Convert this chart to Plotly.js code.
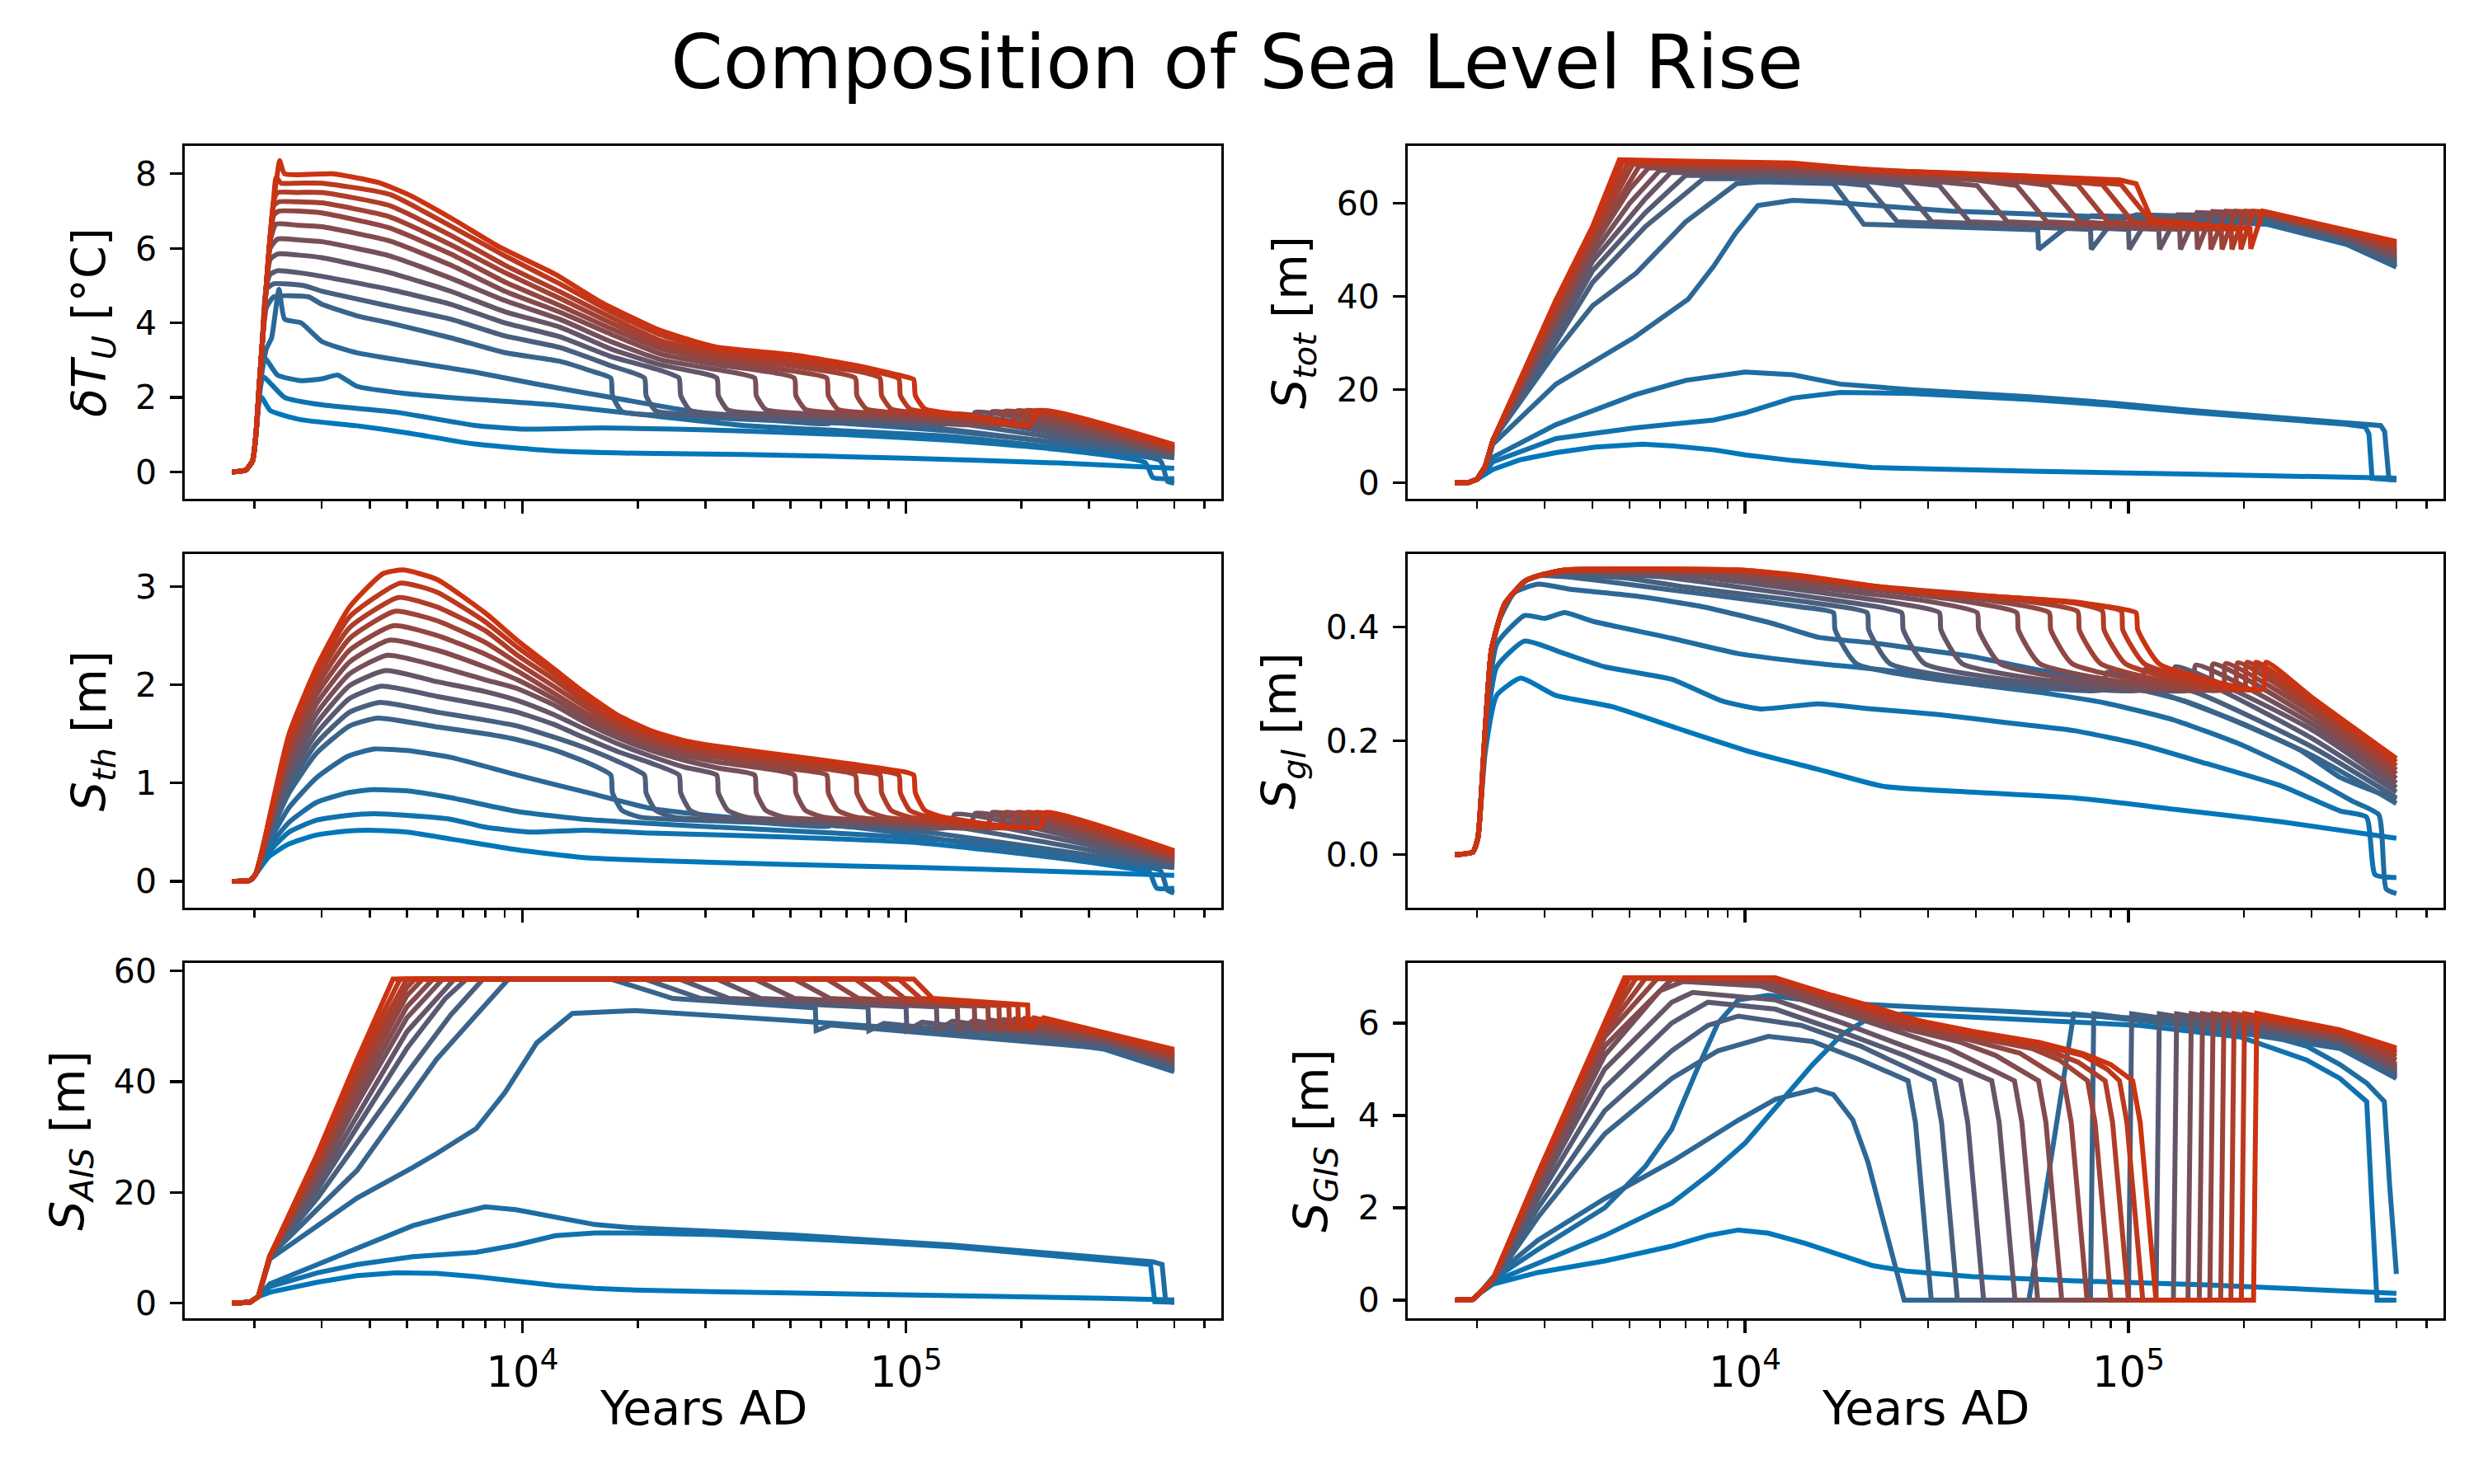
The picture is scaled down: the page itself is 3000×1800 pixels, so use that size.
<!DOCTYPE html>
<html>
<head>
<meta charset="utf-8">
<script src="https://cdn.plot.ly/plotly-3.0.1.min.js"></script>
<style>html,body{margin:0;padding:0;background:#fff}</style>
</head>
<body>
<div id="graph" style="width:3000px;height:1800px"></div>
<script>
// each scenario is a list of [year AD, value], blue (low) -> red (high)
const tempU = [
  [[1750,0],[1900,0.05],[1980,0.3],[2020,1.0],[2060,1.9],[2090,2.0],[2200,1.65],[2650,1.4],[3700,1.24],[5000,1.05],[7500,0.75],[12000,0.57],[20000,0.5],[37500,0.47],[100000,0.37],[250000,0.24],[500000,0.1]],
  [[1750,0],[1900,0.05],[1980,0.3],[2020,1.0],[2060,2.0],[2110,2.55],[2400,2.0],[3000,1.8],[4700,1.6],[7500,1.25],[10000,1.15],[16000,1.18],[25000,1.15],[37500,1.1],[70000,1.0],[130000,0.85],[250000,0.6],[420000,0.25],[440000,-0.15],[500000,-0.18]],
  [[1750,0],[1900,0.05],[1980,0.3],[2020,1.0],[2060,2.1],[2130,3.05],[2300,2.6],[2650,2.45],[3000,2.5],[3300,2.6],[3700,2.3],[5000,2.1],[7500,1.95],[12000,1.8],[20000,1.55],[37500,1.25],[70000,1.1],[130000,0.95],[250000,0.65],[460000,0.3],[480000,-0.25],[500000,-0.3]],
  [[1750,0],[1900,0.05],[1980,0.3],[2020,1.0],[2060,2.2],[2150,3.3],[2220,3.6],[2320,4.9],[2400,4.1],[2650,4.0],[3000,3.5],[3700,3.2],[5000,2.97],[7500,2.68],[11000,2.35],[17000,2.0],[25000,1.7],[37500,1.45],[70000,1.3],[130000,1.1],[220000,0.85],[340000,0.62],[500000,0.4]],
  [[1750,0],[1900,0.05],[1980,0.3],[2020,1.0],[2060,2.3],[2100,3.5],[2150,4.4],[2250,4.7],[2770,4.7],[3000,4.5],[3700,4.19],[4500,4.0],[6500,3.6],[9000,3.2],[12500,2.97],[15000,2.72],[17000,2.52],[17170,2.05],[18190,1.62],[25000,1.5],[45000,1.38],[63000,1.3],[64900,1.42],[500000,0.38]],
  [[1750,0],[1900,0.05],[1980,0.3],[2020,1.0],[2060,2.3],[2100,3.5],[2150,4.9],[2250,5.05],[2700,5.0],[3000,4.85],[4500,4.45],[6500,4.1],[9000,3.65],[12500,3.34],[17000,2.85],[20800,2.52],[21010,2.05],[22260,1.64],[30000,1.52],[60000,1.4],[86000,1.3],[88600,1.48],[500000,0.42]],
  [[1750,0],[1900,0.05],[1980,0.3],[2020,1.0],[2060,2.3],[2100,3.5],[2150,5.0],[2200,5.3],[2300,5.4],[2600,5.35],[3000,5.25],[4500,4.9],[6500,4.5],[9000,4.0],[12500,3.63],[17000,3.1],[23000,2.72],[25600,2.52],[25860,2.05],[27390,1.65],[35000,1.53],[70000,1.41],[108000,1.3],[111200,1.52],[500000,0.46]],
  [[1750,0],[1900,0.05],[1980,0.3],[2020,1.0],[2060,2.3],[2100,3.5],[2150,5.0],[2200,5.7],[2300,5.85],[2600,5.82],[3000,5.75],[4500,5.35],[6500,4.85],[9000,4.3],[12500,3.89],[17000,3.3],[23000,2.87],[32100,2.52],[32420,2.05],[34350,1.66],[45000,1.54],[90000,1.41],[130000,1.3],[133900,1.55],[500000,0.49]],
  [[1750,0],[1900,0.05],[1980,0.3],[2020,1.0],[2060,2.3],[2100,3.5],[2150,5.0],[2200,6.0],[2300,6.25],[2650,6.22],[3000,6.18],[4500,5.8],[6500,5.2],[9000,4.6],[12500,4.1],[17000,3.5],[23000,3.01],[32000,2.75],[40300,2.52],[40700,2.05],[43120,1.67],[55000,1.56],[100000,1.42],[147000,1.28],[151400,1.6],[500000,0.52]],
  [[1750,0],[1900,0.05],[1980,0.3],[2020,1.0],[2060,2.3],[2100,3.5],[2150,5.0],[2200,6.2],[2280,6.65],[2600,6.62],[3000,6.58],[4500,6.2],[6500,5.55],[9000,4.85],[12500,4.29],[17000,3.7],[23000,3.16],[32000,2.88],[51100,2.52],[51610,2.05],[54680,1.68],[70000,1.57],[110000,1.45],[163000,1.28],[167900,1.62],[500000,0.55]],
  [[1750,0],[1900,0.05],[1980,0.3],[2020,1.0],[2060,2.3],[2100,3.5],[2150,5.0],[2200,6.3],[2250,6.9],[2320,7.0],[2600,7.0],[3000,6.95],[4500,6.55],[6500,5.85],[9000,5.1],[12500,4.47],[17000,3.85],[23000,3.3],[32000,3.0],[50000,2.72],[62100,2.52],[62720,2.05],[66450,1.68],[85000,1.57],[130000,1.45],[176000,1.28],[181300,1.63],[500000,0.58]],
  [[1750,0],[1900,0.05],[1980,0.3],[2020,1.0],[2060,2.3],[2100,3.5],[2150,5.0],[2200,6.3],[2250,7.15],[2320,7.25],[2600,7.25],[3000,7.22],[4500,6.85],[6500,6.1],[9000,5.35],[12500,4.66],[17000,4.0],[23000,3.41],[32000,3.1],[50000,2.85],[73700,2.52],[74440,2.05],[78860,1.69],[100000,1.57],[140000,1.45],[189000,1.28],[194700,1.64],[500000,0.62]],
  [[1750,0],[1900,0.05],[1980,0.3],[2020,1.0],[2060,2.3],[2100,3.5],[2150,5.0],[2200,6.3],[2250,7.3],[2300,7.5],[2600,7.5],[3000,7.5],[4500,7.15],[6500,6.35],[9000,5.55],[12500,4.84],[17000,4.15],[23000,3.52],[32000,3.2],[50000,2.95],[75000,2.7],[85500,2.52],[86360,2.05],[91490,1.69],[110000,1.57],[150000,1.45],[200000,1.27],[206000,1.65],[500000,0.65]],
  [[1750,0],[1900,0.05],[1980,0.3],[2020,1.0],[2060,2.3],[2100,3.5],[2150,5.0],[2200,6.3],[2250,7.4],[2280,7.9],[2350,7.75],[2600,7.75],[3000,7.75],[4500,7.45],[6500,6.6],[9000,5.8],[12500,5.05],[17000,4.3],[23000,3.67],[32000,3.28],[50000,3.05],[75000,2.78],[95700,2.5],[96660,2.05],[102400,1.69],[120000,1.58],[160000,1.45],[211000,1.26],[217300,1.65],[500000,0.69]],
  [[1750,0],[1900,0.05],[1980,0.3],[2020,1.0],[2060,2.3],[2100,3.5],[2150,5.0],[2200,6.3],[2250,7.3],[2290,7.9],[2330,8.35],[2400,8.0],[3200,8.0],[4200,7.77],[5050,7.44],[6600,6.78],[8700,6.04],[12200,5.3],[16000,4.56],[22600,3.82],[32000,3.35],[50000,3.15],[75000,2.85],[100000,2.55],[104700,2.48],[105750,2.05],[112000,1.69],[150000,1.5],[208000,1.24],[224000,1.65],[500000,0.73]]
]

const seaTot = [
  [[1750,0],[1900,0.1],[2000,0.8],[2100,1.8],[2198,2.9],[2600,5.0],[3211,6.5],[4074,7.7],[5400,8.3],[6540,7.9],[8285,7.1],[10000,6.0],[13300,4.8],[21400,3.3],[34400,2.8],[55200,2.5],[142600,1.9],[500000,1.0]],
  [[1750,0],[1900,0.1],[2000,0.8],[2100,2.5],[2198,4.5],[3211,9.5],[5160,11.8],[8285,13.5],[10000,15.0],[13300,18.2],[17700,19.4],[27100,19.2],[55200,17.9],[88700,16.7],[142600,15.2],[229000,13.9],[367600,12.6],[415000,12.0],[424000,10.5],[432000,1.0],[500000,0.6]],
  [[1750,0],[1900,0.1],[2000,0.8],[2100,2.6],[2198,5.5],[3211,12.5],[5160,18.9],[7000,22.0],[10000,23.8],[13300,23.2],[17700,21.2],[27100,20.0],[55200,18.5],[88700,17.2],[142600,15.6],[229000,14.2],[367600,13.0],[455000,12.3],[466000,11.0],[478000,0.8],[500000,0.6]],
  [[1750,0],[1900,0.1],[2000,0.8],[2100,3.0],[2198,8.3],[3211,21.2],[5160,31.3],[7100,39.4],[8285,46.5],[9450,53.6],[10800,59.5],[13300,60.6],[16200,60.3],[21400,59.5],[34400,58.3],[55200,57.7],[88700,57.1],[142600,56.3],[229000,55.5],[370000,51.2],[500000,46.3]],
  [[1750,0],[1900,0.1],[2000,0.8],[2100,3.5],[2200,9.2],[3200,28],[4000,38],[5200,45],[7000,56],[9500,64.2],[11000,64.6],[15000,64.5],[17000,64.2],[20400,55.5],[58000,54.3],[58300,50.1],[67300,54.2],[80000,57.3],[229000,56.5],[370000,51.5],[500000,46.8]],
  [[1750,0],[1900,0.1],[2000,0.8],[2100,3.5],[2200,9.2],[3200,30],[4000,43],[5500,55],[7800,65.3],[12000,65.2],[17000,64.5],[20800,63.8],[24960,56.0],[79600,54.4],[80000,50.1],[90700,56.0],[105000,57.5],[229000,56.8],[370000,51.9],[500000,47.3]],
  [[1750,0],[1900,0.1],[2000,0.8],[2100,3.5],[2200,9.2],[3200,31.5],[4000,45.5],[5500,58],[7000,66.0],[12000,65.8],[20000,64.8],[25600,63.8],[30720,56.0],[100000,54.4],[100500,50.1],[113000,57.0],[229000,57.1],[370000,52.3],[500000,47.8]],
  [[1750,0],[1900,0.1],[2000,0.8],[2100,3.5],[2200,9.2],[3200,33],[4000,47.5],[5500,61],[6400,66.6],[12000,66.4],[22000,65.2],[32100,63.8],[38520,56.0],[120000,54.4],[120600,50.1],[134400,57.5],[229000,57.3],[370000,52.6],[500000,48.3]],
  [[1750,0],[1900,0.1],[2000,0.8],[2100,3.5],[2200,9.2],[3200,34],[4000,49],[5000,60],[6000,67.1],[12000,66.9],[25000,65.5],[40300,63.8],[48360,56.0],[136000,54.4],[136700,50.1],[151000,58.0],[229000,57.5],[370000,52.9],[500000,48.8]],
  [[1750,0],[1900,0.1],[2000,0.8],[2100,3.5],[2200,9.2],[3200,35],[4000,50.5],[5000,63],[5600,67.6],[12000,67.4],[25000,66.0],[40000,65.0],[51100,63.8],[61320,56.0],[150600,54.4],[151400,50.1],[165700,58.2],[229000,57.7],[370000,53.2],[500000,49.3]],
  [[1750,0],[1900,0.1],[2000,0.8],[2100,3.5],[2200,9.2],[3200,36],[4000,51.5],[5300,68.0],[12000,67.8],[25000,66.3],[45000,65.3],[62100,63.8],[74520,56.0],[163400,54.4],[164200,50.1],[179700,58.3],[229000,57.8],[370000,53.5],[500000,49.8]],
  [[1750,0],[1900,0.1],[2000,0.8],[2100,3.5],[2200,9.2],[3200,37],[4000,52.5],[5100,68.4],[12000,68.1],[25000,66.6],[50000,65.5],[73700,64.0],[88440,56.0],[174600,54.4],[175500,50.1],[190300,58.3],[229000,57.9],[370000,53.7],[500000,50.3]],
  [[1750,0],[1900,0.1],[2000,0.8],[2100,3.5],[2200,9.2],[3200,37.8],[4000,53.5],[4950,68.7],[12000,68.3],[25000,66.8],[55000,65.6],[85500,64.0],[102600,56.0],[185300,54.4],[186200,50.1],[202000,58.3],[229000,58.0],[370000,53.9],[500000,50.8]],
  [[1750,0],[1900,0.1],[2000,0.8],[2100,3.5],[2200,9.2],[3200,38.5],[4000,54.3],[4800,69.0],[12000,68.5],[25000,66.9],[55000,65.8],[95700,64.0],[114800,56.0],[195600,54.4],[196600,50.1],[211200,58.3],[229000,58.1],[370000,54.1],[500000,51.3]],
  [[1750,0],[1900,0.1],[2000,0.8],[2100,3.5],[2200,9.2],[3200,39],[4000,55],[4700,69.3],[13300,68.6],[21400,67.1],[34400,66.5],[55200,65.9],[76200,65.5],[95000,65.0],[104700,64.2],[115000,56.4],[207500,54.5],[208500,50.2],[224100,58.3],[370000,54.3],[500000,51.8]]
]

const seaTh = [
  [[1750,0],[1950,0.01],[2016,0.07],[2185,0.25],[2465,0.38],[2900,0.47],[3500,0.51],[4100,0.518],[5000,0.5],[6500,0.43],[9700,0.32],[14500,0.24],[21700,0.21],[48700,0.17],[109000,0.14],[244500,0.1],[500000,0.06]],
  [[1750,0],[1950,0.01],[2016,0.07],[2185,0.3],[2465,0.5],[2900,0.62],[3500,0.67],[4100,0.687],[5000,0.67],[6500,0.63],[8000,0.55],[10500,0.5],[14500,0.52],[21700,0.49],[48700,0.45],[109000,0.39],[244500,0.24],[400000,0.12],[430000,0.1],[450000,-0.07],[500000,-0.07]],
  [[1750,0],[1950,0.01],[2016,0.07],[2185,0.35],[2465,0.6],[2900,0.8],[3500,0.9],[4000,0.931],[5000,0.92],[6500,0.85],[9700,0.71],[14500,0.63],[32500,0.55],[72900,0.48],[163000,0.38],[366000,0.18],[460000,0.11],[480000,-0.09],[500000,-0.12]],
  [[1750,0],[1950,0.01],[2016,0.07],[2185,0.4],[2465,0.75],[2900,1.05],[3500,1.27],[4100,1.345],[5000,1.33],[6500,1.26],[9700,1.08],[14500,0.91],[21700,0.74],[32500,0.66],[48700,0.61],[72900,0.55],[109000,0.46],[163000,0.35],[244500,0.25],[500000,0.14]],
  [[1750,0],[1950,0.01],[2016,0.07],[2185,0.45],[2465,0.9],[2900,1.3],[3543,1.58],[4200,1.66],[6000,1.57],[8000,1.5],[9700,1.44],[12000,1.34],[14500,1.22],[17000,1.08],[17170,0.9],[18190,0.72],[20400,0.65],[40000,0.6],[63000,0.56],[64900,0.6],[500000,0.14]],
  [[1750,0],[1950,0.01],[2016,0.07],[2185,0.47],[2465,0.97],[2900,1.4],[3543,1.72],[4250,1.82],[6000,1.72],[8000,1.64],[9700,1.58],[12000,1.47],[14500,1.36],[17700,1.22],[20800,1.08],[21010,0.9],[22260,0.72],[24960,0.65],[50000,0.6],[86000,0.55],[88600,0.63],[500000,0.16]],
  [[1750,0],[1950,0.01],[2016,0.07],[2185,0.5],[2465,1.05],[2900,1.5],[3543,1.86],[4300,1.985],[6000,1.88],[8000,1.79],[9700,1.72],[12000,1.6],[14500,1.46],[17700,1.32],[21700,1.2],[25600,1.08],[25860,0.9],[27390,0.72],[30720,0.65],[60000,0.6],[108000,0.55],[111200,0.66],[500000,0.18]],
  [[1750,0],[1950,0.01],[2016,0.07],[2185,0.52],[2465,1.12],[2900,1.6],[3543,1.99],[4400,2.144],[6000,2.03],[8000,1.93],[9700,1.84],[12000,1.7],[14500,1.55],[17700,1.4],[21700,1.27],[26500,1.16],[32100,1.08],[32420,0.9],[34350,0.72],[38520,0.65],[70000,0.6],[130000,0.55],[133900,0.68],[500000,0.195]],
  [[1750,0],[1950,0.01],[2016,0.07],[2185,0.54],[2465,1.18],[2900,1.7],[3543,2.11],[4450,2.3],[6000,2.19],[8000,2.05],[9700,1.96],[12000,1.8],[14500,1.62],[17700,1.46],[21700,1.33],[26500,1.23],[32500,1.15],[40300,1.08],[40700,0.9],[43120,0.72],[48360,0.65],[90000,0.6],[147000,0.55],[151400,0.69],[500000,0.21]],
  [[1750,0],[1950,0.01],[2016,0.07],[2185,0.56],[2465,1.24],[2900,1.8],[3543,2.23],[4500,2.453],[6000,2.35],[8000,2.18],[9700,2.05],[12000,1.86],[14500,1.67],[17700,1.5],[21700,1.37],[26500,1.28],[32500,1.21],[51100,1.08],[51610,0.9],[54680,0.72],[61320,0.65],[100000,0.6],[163000,0.55],[167900,0.7],[500000,0.225]],
  [[1750,0],[1950,0.01],[2016,0.07],[2185,0.57],[2465,1.3],[2900,1.89],[3543,2.35],[4600,2.6],[6000,2.5],[8000,2.31],[9700,2.14],[12000,1.92],[14500,1.72],[17700,1.54],[21700,1.41],[26500,1.32],[32500,1.26],[48700,1.15],[62100,1.08],[62720,0.9],[66450,0.72],[74520,0.65],[110000,0.6],[176000,0.55],[181300,0.7],[500000,0.24]],
  [[1750,0],[1950,0.01],[2016,0.07],[2185,0.59],[2465,1.36],[2900,1.97],[3543,2.47],[4650,2.747],[6000,2.65],[8000,2.43],[9700,2.22],[12000,1.99],[14500,1.78],[17700,1.58],[21700,1.44],[26500,1.35],[32500,1.29],[48700,1.19],[73700,1.08],[74440,0.9],[78860,0.72],[88440,0.65],[120000,0.6],[189000,0.55],[194700,0.7],[500000,0.255]],
  [[1750,0],[1950,0.01],[2016,0.07],[2185,0.6],[2465,1.41],[2900,2.05],[3543,2.58],[4750,2.887],[6000,2.79],[8000,2.55],[9700,2.3],[12000,2.06],[14500,1.83],[17700,1.62],[21700,1.47],[26500,1.38],[32500,1.32],[48700,1.23],[72900,1.13],[85500,1.08],[86360,0.9],[91490,0.72],[102600,0.65],[130000,0.6],[200000,0.55],[206000,0.7],[500000,0.27]],
  [[1750,0],[1950,0.01],[2016,0.07],[2185,0.62],[2465,1.46],[2900,2.11],[3543,2.69],[4800,3.033],[6000,2.94],[8000,2.64],[9700,2.38],[12000,2.12],[14500,1.88],[17700,1.65],[21700,1.5],[26500,1.4],[32500,1.35],[48700,1.26],[72900,1.16],[95700,1.08],[96660,0.9],[102400,0.72],[114800,0.65],[140000,0.6],[211000,0.55],[217300,0.7],[500000,0.29]],
  [[1750,0],[1950,0.01],[2016,0.07],[2100,0.3],[2185,0.63],[2465,1.5],[2900,2.17],[3543,2.79],[4333,3.13],[4900,3.167],[6000,3.07],[8000,2.73],[9700,2.45],[12000,2.17],[14500,1.92],[17700,1.69],[21700,1.53],[26500,1.43],[32500,1.37],[48700,1.28],[72900,1.19],[100000,1.11],[104700,1.08],[105750,0.9],[112000,0.72],[125600,0.65],[150000,0.6],[224000,0.55],[230700,0.7],[500000,0.31]]
]

const seaGl = [
  [[1750,0],[1950,0.005],[2010,0.03],[2100,0.18],[2250,0.28],[2600,0.31],[3200,0.28],[4500,0.26],[6800,0.22],[10400,0.18],[15500,0.15],[23000,0.12],[39000,0.11],[72000,0.1],[131000,0.08],[250000,0.058],[500000,0.029]],
  [[1750,0],[1950,0.005],[2010,0.03],[2100,0.2],[2250,0.33],[2660,0.375],[3385,0.353],[4305,0.33],[6437,0.308],[8700,0.27],[11000,0.256],[15500,0.265],[21500,0.256],[32000,0.246],[48000,0.232],[72000,0.218],[107000,0.194],[160000,0.16],[250000,0.121],[356500,0.077],[418000,0.066],[440000,-0.035],[500000,-0.04]],
  [[1750,0],[1950,0.005],[2010,0.03],[2100,0.22],[2250,0.37],[2660,0.42],[3000,0.415],[3385,0.425],[4000,0.41],[6437,0.38],[9613,0.353],[14360,0.338],[26250,0.32],[39230,0.3],[58630,0.285],[87620,0.266],[130900,0.237],[195600,0.194],[280000,0.145],[390000,0.092],[450000,0.07],[470000,-0.06],[500000,-0.068]],
  [[1750,0],[1950,0.005],[2010,0.03],[2100,0.22],[2250,0.4],[2500,0.46],[2884,0.475],[3500,0.466],[5200,0.454],[7800,0.435],[11800,0.406],[15500,0.382],[21500,0.372],[27000,0.363],[39000,0.348],[58600,0.324],[87600,0.305],[131000,0.276],[195600,0.232],[280000,0.184],[356500,0.136],[500000,0.097]],
  [[1750,0],[1950,0.005],[2010,0.03],[2100,0.22],[2180,0.36],[2360,0.44],[2660,0.48],[2900,0.49],[3400,0.488],[4300,0.48],[6400,0.465],[9600,0.45],[14000,0.435],[17000,0.425],[17170,0.395],[19550,0.335],[63000,0.292],[64300,0.315],[140000,0.27],[300000,0.175],[500000,0.09]],
  [[1750,0],[1950,0.005],[2010,0.03],[2100,0.22],[2180,0.36],[2360,0.44],[2660,0.48],[2900,0.49],[3400,0.492],[5000,0.485],[7000,0.47],[10000,0.457],[14000,0.445],[20800,0.425],[21010,0.395],[23920,0.335],[86000,0.29],[87700,0.32],[150000,0.285],[300000,0.19],[500000,0.1]],
  [[1750,0],[1950,0.005],[2010,0.03],[2100,0.22],[2180,0.36],[2360,0.44],[2660,0.48],[2900,0.49],[3400,0.494],[6000,0.488],[9600,0.47],[14000,0.455],[20000,0.44],[25600,0.425],[25860,0.395],[29440,0.335],[108000,0.29],[110200,0.325],[160000,0.3],[300000,0.205],[500000,0.11]],
  [[1750,0],[1950,0.005],[2010,0.03],[2100,0.22],[2180,0.36],[2360,0.44],[2660,0.48],[2900,0.49],[3400,0.496],[7000,0.49],[10000,0.478],[15000,0.462],[22000,0.447],[32100,0.425],[32420,0.395],[36920,0.335],[130000,0.29],[132600,0.33],[300000,0.22],[500000,0.118]],
  [[1750,0],[1950,0.005],[2010,0.03],[2100,0.22],[2180,0.36],[2360,0.44],[2660,0.48],[2900,0.49],[3400,0.497],[8000,0.492],[12000,0.478],[20000,0.46],[30000,0.445],[40300,0.425],[40700,0.395],[46350,0.335],[147000,0.29],[149900,0.333],[300000,0.23],[500000,0.126]],
  [[1750,0],[1950,0.005],[2010,0.03],[2100,0.22],[2180,0.36],[2360,0.44],[2660,0.48],[2900,0.49],[3400,0.498],[9000,0.494],[13000,0.482],[22000,0.465],[35000,0.448],[51100,0.425],[51610,0.395],[58770,0.335],[163000,0.29],[166300,0.335],[300000,0.24],[500000,0.134]],
  [[1750,0],[1950,0.005],[2010,0.03],[2100,0.22],[2180,0.36],[2360,0.44],[2660,0.48],[2900,0.49],[3400,0.499],[9600,0.496],[14000,0.485],[22000,0.468],[40000,0.45],[62100,0.425],[62720,0.395],[71420,0.335],[176000,0.29],[179500,0.336],[300000,0.25],[500000,0.142]],
  [[1750,0],[1950,0.005],[2010,0.03],[2100,0.22],[2180,0.36],[2360,0.44],[2660,0.48],[2900,0.49],[3400,0.5],[9600,0.498],[14000,0.487],[22000,0.47],[45000,0.452],[73700,0.427],[74440,0.395],[84760,0.335],[189000,0.29],[192800,0.337],[300000,0.258],[500000,0.149]],
  [[1750,0],[1950,0.005],[2010,0.03],[2100,0.22],[2180,0.36],[2360,0.44],[2660,0.48],[2900,0.49],[3400,0.5],[9600,0.499],[14000,0.488],[22000,0.471],[48000,0.452],[72000,0.442],[85500,0.428],[86360,0.395],[98330,0.335],[200000,0.29],[204000,0.338],[300000,0.265],[500000,0.156]],
  [[1750,0],[1950,0.005],[2010,0.03],[2100,0.22],[2180,0.36],[2360,0.44],[2660,0.48],[2900,0.49],[3400,0.5],[9600,0.5],[14000,0.489],[21000,0.472],[32000,0.458],[48000,0.452],[72000,0.443],[95700,0.428],[96660,0.395],[110100,0.335],[211000,0.29],[215200,0.338],[300000,0.271],[500000,0.163]],
  [[1750,0],[1950,0.005],[2010,0.03],[2100,0.22],[2180,0.36],[2360,0.44],[2660,0.48],[2900,0.49],[3400,0.5],[9600,0.5],[14000,0.49],[21000,0.473],[32000,0.459],[48000,0.452],[72000,0.444],[95000,0.432],[104700,0.425],[105750,0.395],[120400,0.335],[224000,0.29],[228500,0.338],[300000,0.277],[500000,0.169]]
]

const seaAis = [
  [[1750,0],[1950,0.2],[2050,1.2],[2196,2.0],[2923,3.8],[3709,5.0],[4707,5.5],[5972,5.4],[7574,4.8],[9610,4.0],[12190,3.2],[15460,2.7],[19620,2.4],[31580,2.1],[50870,1.9],[81900,1.7],[131900,1.5],[212300,1.2],[330000,0.9],[500000,0.6]],
  [[1750,0],[1950,0.2],[2050,1.2],[2196,3.0],[2923,5.5],[3709,7.0],[5180,8.4],[7574,9.2],[9610,10.5],[12190,12.2],[15460,12.7],[19620,12.7],[31580,12.4],[50870,11.8],[81900,11.0],[131900,10.2],[212300,9.0],[330000,7.8],[420000,7.3],[433600,7.0],[445000,0.3],[500000,0.2]],
  [[1750,0],[1950,0.2],[2050,1.2],[2196,3.5],[2923,7.0],[3709,10.0],[5180,14.0],[6600,16.0],[8000,17.4],[9610,16.9],[12190,15.5],[15460,14.2],[19620,13.6],[31580,13.0],[50870,12.3],[81900,11.4],[131900,10.5],[212300,9.3],[330000,8.1],[440000,7.5],[465000,7.0],[475000,0.3],[500000,0.2]],
  [[1750,0],[1950,0.2],[2050,1.2],[2196,8.0],[2923,14.0],[3709,19.0],[5180,24.5],[5972,27.0],[7574,31.5],[9000,38.0],[10900,47.0],[13500,52.3],[19600,52.8],[31580,52.0],[50870,51.0],[81900,50.0],[131900,49.0],[212300,47.8],[330000,45.8],[500000,41.8]],
  [[1750,0],[1950,0.2],[2050,1.2],[2196,8.5],[2923,17],[3709,24],[4707,34],[5972,44],[7574,52],[9200,58.5],[17000,58.5],[24650,55],[58000,53.3],[58300,49.2],[63800,50.2],[330000,46.0],[500000,42.2]],
  [[1750,0],[1950,0.2],[2050,1.2],[2196,8.5],[2923,19],[3709,29],[5000,41.5],[6500,52],[7900,58.5],[20800,58.5],[29120,55],[79600,53.4],[80000,49.2],[87600,50.5],[330000,46.4],[500000,42.6]],
  [[1750,0],[1950,0.2],[2050,1.2],[2196,8.5],[2923,20.5],[3709,32],[5000,46],[6300,55],[7150,58.5],[25600,58.5],[34560,55],[100000,53.5],[100500,49.2],[110000,50.7],[330000,46.8],[500000,43.0]],
  [[1750,0],[1950,0.2],[2050,1.2],[2196,8.5],[2923,21.7],[3709,34],[5000,49],[6650,58.5],[32100,58.5],[41730,55],[120000,53.5],[120600,49.2],[132000,50.9],[330000,47.1],[500000,43.4]],
  [[1750,0],[1950,0.2],[2050,1.2],[2196,8.5],[2923,22.8],[3709,36],[5000,51.5],[6200,58.5],[40300,58.5],[51180,55],[136000,53.5],[136700,49.2],[149600,51.0],[330000,47.4],[500000,43.8]],
  [[1750,0],[1950,0.2],[2050,1.2],[2196,8.5],[2923,23.7],[3709,37.5],[5000,53.5],[5850,58.5],[51100,58.5],[63360,55],[150600,53.6],[151400,49.2],[165700,51.1],[330000,47.7],[500000,44.1]],
  [[1750,0],[1950,0.2],[2050,1.2],[2196,8.5],[2923,24.5],[3709,39],[5000,55.5],[5500,58.5],[62100,58.5],[75140,55],[163400,53.6],[164200,49.2],[179700,51.2],[330000,48.0],[500000,44.4]],
  [[1750,0],[1950,0.2],[2050,1.2],[2196,8.5],[2923,25.3],[3709,40.5],[5000,57],[5250,58.5],[73700,58.5],[86970,55],[174600,53.7],[175500,49.2],[192100,51.3],[330000,48.2],[500000,44.7]],
  [[1750,0],[1950,0.2],[2050,1.2],[2196,8.5],[2923,26],[3709,42],[5000,58.5],[85500,58.5],[99180,55],[185300,53.7],[186200,49.2],[203800,51.4],[330000,48.4],[500000,45.0]],
  [[1750,0],[1950,0.2],[2050,1.2],[2196,8.5],[2923,26.5],[3709,43],[4800,58.5],[95700,58.5],[109100,55],[195600,53.8],[196600,49.2],[215200,51.5],[330000,48.6],[500000,45.4]],
  [[1750,0],[1950,0.2],[2050,1.2],[2196,8.5],[2923,27],[3709,44],[4600,58.5],[104700,58.5],[117300,55],[207500,53.8],[208500,49.2],[228300,51.5],[330000,48.8],[500000,45.8]]
]

const seaGis = [
  [[1750,0],[1950,0.02],[2030,0.15],[2200,0.35],[2884,0.6],[4305,0.85],[6437,1.17],[8000,1.4],[9613,1.52],[11500,1.45],[14360,1.23],[18000,0.95],[21470,0.75],[26250,0.63],[39230,0.51],[71670,0.42],[160000,0.33],[500000,0.15]],
  [[1750,0],[1950,0.02],[2030,0.15],[2200,0.4],[2884,0.8],[4305,1.4],[6437,2.1],[8170,2.76],[10000,3.4],[12300,4.25],[15000,5.1],[17900,5.75],[21000,6.1],[26000,6.2],[48000,6.1],[107000,5.95],[195600,5.7],[291500,5.2],[356500,4.8],[418400,4.3],[432000,2.0],[445000,0.0],[500000,0.0]],
  [[1750,0],[1950,0.02],[2030,0.15],[2200,0.45],[2884,1.1],[4305,2.0],[5500,2.9],[6437,3.7],[7500,5.0],[8500,6.0],[9600,6.5],[11500,6.6],[16000,6.45],[21470,6.4],[48000,6.25],[107000,6.1],[195600,5.9],[291500,5.5],[356500,5.1],[418400,4.7],[465000,4.3],[480000,2.5],[500000,0.57]],
  [[1750,0],[1950,0.02],[2030,0.15],[2200,0.5],[2884,1.3],[4305,2.2],[6437,3.0],[9613,3.9],[12000,4.35],[15300,4.57],[17000,4.45],[19100,3.9],[20900,3.0],[26000,0.0],[55000,0.0],[63000,3.2],[72000,6.2],[160000,5.9],[356000,5.45],[500000,4.8]],
  [[1750,0],[1950,0.02],[2030,0.15],[2200,0.4],[2884,1.8],[4305,3.6],[6437,4.8],[8500,5.4],[11500,5.71],[15000,5.6],[20000,5.2],[26610,4.75],[27820,3.85],[30600,0],[79600,0],[81190,6.2],[356000,5.5],[500000,4.85]],
  [[1750,0],[1950,0.02],[2030,0.15],[2200,0.42],[2884,2.0],[4305,4.1],[6437,5.4],[8000,5.95],[9600,6.15],[14000,5.95],[20000,5.5],[26000,5.05],[31130,4.75],[32550,3.85],[35800,0],[100000,0],[102000,6.2],[356000,5.55],[500000,4.9]],
  [[1750,0],[1950,0.02],[2030,0.15],[2200,0.43],[2884,2.2],[4305,4.6],[6437,6.0],[8000,6.45],[12000,6.3],[18000,5.8],[26000,5.3],[36430,4.75],[38090,3.85],[41900,0],[118000,0],[120400,6.2],[356000,5.6],[500000,4.95]],
  [[1750,0],[1950,0.02],[2030,0.15],[2200,0.44],[2884,2.35],[4305,5.0],[6437,6.45],[7300,6.66],[12000,6.5],[18000,6.0],[26000,5.5],[34000,5.15],[44000,4.75],[46000,3.85],[50600,0],[131000,0],[133600,6.2],[356000,5.63],[500000,5.0]],
  [[1750,0],[1950,0.02],[2030,0.15],[2200,0.44],[2884,2.45],[4305,5.3],[6000,6.7],[6900,6.9],[11000,6.8],[16000,6.35],[24000,5.85],[34000,5.45],[50430,4.75],[52730,3.85],[58000,0],[143000,0],[145900,6.2],[356000,5.66],[500000,5.05]],
  [[1750,0],[1950,0.02],[2030,0.15],[2200,0.45],[2884,2.55],[4305,5.5],[6437,6.95],[11000,6.9],[16000,6.45],[24000,5.95],[36000,5.6],[45000,5.3],[58260,4.75],[60910,3.85],[67000,0],[153000,0],[156100,6.2],[356000,5.7],[500000,5.1]],
  [[1750,0],[1950,0.02],[2030,0.15],[2200,0.45],[2884,2.6],[4305,5.7],[5900,6.96],[11500,6.93],[16000,6.5],[24000,6.0],[38000,5.65],[52000,5.35],[67830,4.75],[70910,3.85],[78000,0],[163000,0],[166300,6.2],[356000,5.74],[500000,5.2]],
  [[1750,0],[1950,0.02],[2030,0.15],[2200,0.45],[2884,2.65],[4305,5.8],[5500,6.97],[12000,6.95],[16500,6.55],[24000,6.05],[39000,5.7],[56000,5.45],[66000,5.2],[78260,4.75],[81820,3.85],[90000,0],[174000,0],[177500,6.2],[356000,5.77],[500000,5.28]],
  [[1750,0],[1950,0.02],[2030,0.15],[2200,0.45],[2884,2.7],[4305,5.88],[5200,6.98],[12000,6.96],[16800,6.58],[24000,6.1],[39000,5.75],[58000,5.5],[74000,5.15],[86960,4.75],[90910,3.85],[100000,0],[185000,0],[188700,6.2],[356000,5.8],[500000,5.35]],
  [[1750,0],[1950,0.02],[2030,0.15],[2200,0.45],[2884,2.72],[4305,5.94],[5000,6.98],[12000,6.97],[16800,6.59],[22000,6.3],[30000,6.0],[39000,5.78],[58000,5.54],[76000,5.3],[88000,5.0],[94780,4.75],[99090,3.85],[109000,0],[197000,0],[200900,6.2],[356000,5.83],[500000,5.4]],
  [[1750,0],[1950,0.02],[2030,0.15],[2200,0.45],[2884,2.75],[4305,5.99],[4850,6.98],[12000,6.98],[16870,6.6],[21470,6.36],[28000,6.06],[39230,5.82],[58630,5.58],[76000,5.34],[90000,5.1],[102600,4.75],[107300,3.85],[118000,0],[212000,0],[216200,6.21],[356000,5.85],[500000,5.46]]
]

const yLabels = [
    "<i>δT</i><sub><i>U</i></sub> [°C]",
    "<i>S</i><sub><i>tot</i></sub> [m]",
    "<i>S</i><sub><i>th</i></sub> [m]",
    "<i>S</i><sub><i>gl</i></sub> [m]",
    "<i>S</i><sub><i>AIS</i></sub> [m]",
    "<i>S</i><sub><i>GIS</i></sub> [m]"
]
const yRanges = [[-0.72, 8.75], [-3.4, 72.3], [-0.27, 3.33], [-0.093, 0.528], [-2.7, 61.4], [-0.39, 7.3]]
const yDticks = [2, 20, 1, 0.2, 20, 2]
const xLabel = "Years AD"
const figTitle = "Composition of Sea Level Rise"

// smooth panels get a spline, panels with flat plateaus/zero stretches stay linear (no overshoot)
const smoothPanel = [true, false, true, true, false, false]

// blue -> red ramp of the scenarios
const lowColor = [0, 119, 187]
const highColor = [204, 51, 17]
function rampColor(k, n) {
    const t = k / (n - 1)
    const c = lowColor.map((v, i) => Math.round(v + (highColor[i] - v) * t))
    return "rgb(" + c.join(",") + ")"
}

const allPanels = [tempU, seaTot, seaTh, seaGl, seaAis, seaGis]
const colDomains = [[0.0747, 0.4937], [0.569, 0.9877]]
const rowDomains = [[0.6639, 0.9017], [0.3883, 0.6267], [0.1117, 0.3511]]
const font = "DejaVu Sans"

const traces = []
const layout = {
    width: 3000,
    height: 1800,
    margin: { l: 0, r: 0, t: 0, b: 0 },
    paper_bgcolor: "white",
    plot_bgcolor: "white",
    showlegend: false,
    font: { family: font, color: "black", size: 41 },
    title: {
        text: figTitle,
        font: { family: font, size: 91, color: "black" },
        x: 0.5, xanchor: "center",
        y: 0.958, yanchor: "middle"
    },
    // "Years AD" under each bottom panel
    annotations: colDomains.map(d => ({
        text: xLabel,
        xref: "paper", yref: "paper",
        x: (d[0] + d[1]) / 2, y: 1 - 1708 / 1800,
        xanchor: "center", yanchor: "middle",
        showarrow: false,
        font: { family: font, size: 57, color: "black" }
    }))
}

allPanels.forEach((curves, p) => {
    const suffix = p === 0 ? "" : String(p + 1)
    const row = Math.floor(p / 2)
    const col = p % 2
    curves.forEach((curve, k) => {
        traces.push({
            x: curve.map(pt => pt[0]),
            y: curve.map(pt => pt[1]),
            xaxis: "x" + suffix,
            yaxis: "y" + suffix,
            type: "scatter",
            mode: "lines",
            line: smoothPanel[p]
                ? { color: rampColor(k, curves.length), width: 6, shape: "spline", smoothing: 0.5 }
                : { color: rampColor(k, curves.length), width: 6, shape: "linear" },
            hoverinfo: "skip"
        })
    })
    const axisLine = { showline: true, mirror: true, linecolor: "black", linewidth: 3.3, showgrid: false, zeroline: false }
    layout["xaxis" + suffix] = Object.assign({}, axisLine, {
        domain: colDomains[col],
        anchor: "y" + suffix,
        type: "log",
        range: [3.12, 5.822],
        dtick: 1,
        exponentformat: "power",
        showticklabels: row === 2,
        ticks: "outside", ticklen: 14.6, tickwidth: 3.3, tickcolor: "black",
        ticklabelstandoff: 6,
        tickfont: { family: font, size: 41, color: "black" },
        minor: { dtick: "D1", ticks: "outside", ticklen: 8.3, tickwidth: 2.5, tickcolor: "black", showgrid: false }
    })
    layout["yaxis" + suffix] = Object.assign({}, axisLine, {
        domain: rowDomains[row],
        anchor: "x" + suffix,
        range: yRanges[p],
        dtick: yDticks[p],
        tick0: 0,
        tickformat: p === 3 ? ".1f" : "",
        ticks: "outside", ticklen: 14.6, tickwidth: 3.3, tickcolor: "black",
        ticklabelstandoff: 8,
        tickfont: { family: font, size: 41, color: "black" },
        title: { text: yLabels[p], font: { family: font, size: 57, color: "black" }, standoff: 18 }
    })
})

Plotly.newPlot("graph", traces, layout, { staticPlot: true })
</script>
</body>
</html>
